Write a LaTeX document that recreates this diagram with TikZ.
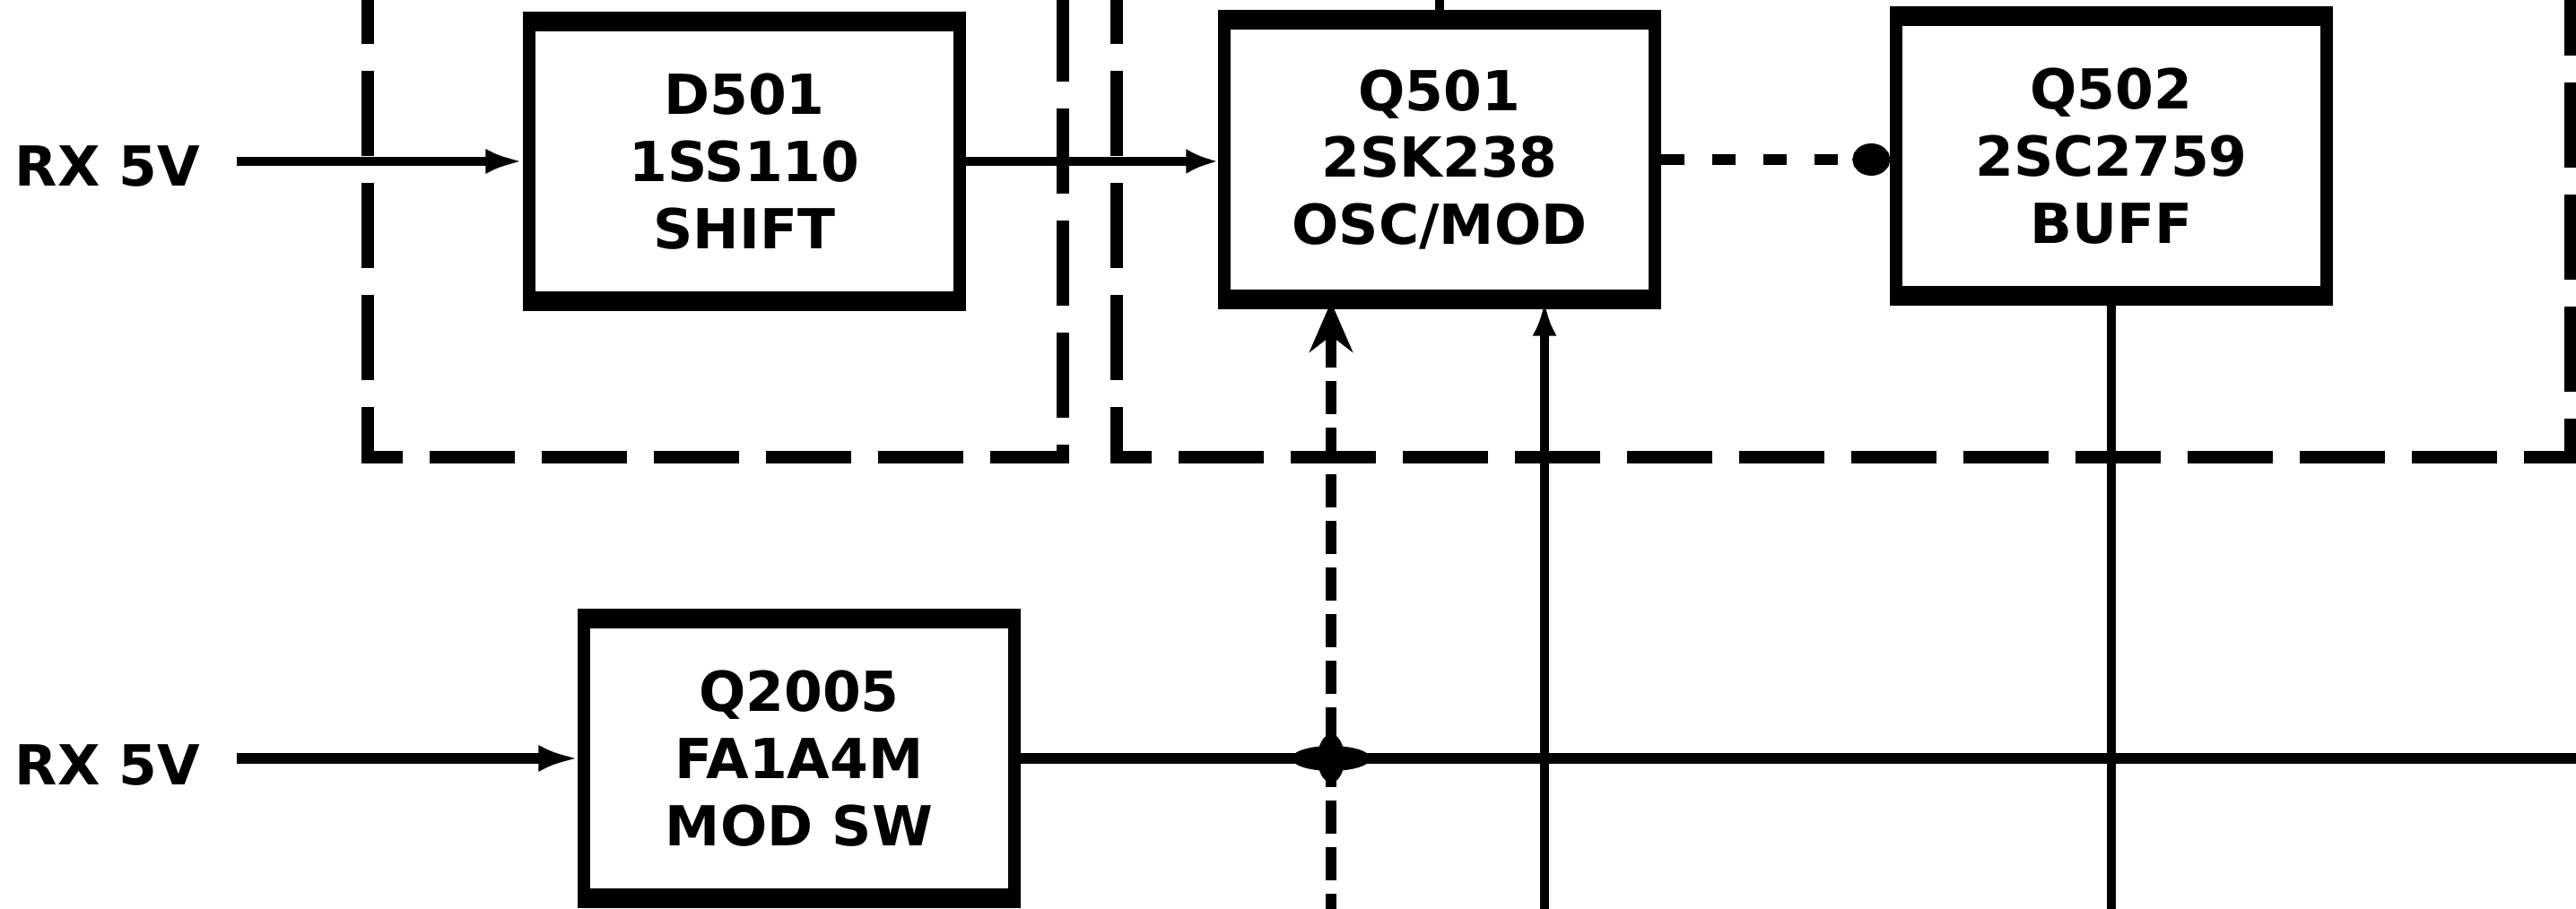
\documentclass[tikz,border=0pt]{standalone}
\usepackage{fontspec}
\setmainfont{DejaVu Sans}
\usetikzlibrary{arrows.meta, positioning}

\tikzset{
  blk/.style={draw, line width=3.8pt, minimum width=4.8cm, minimum height=3.04cm,
    align=center, inner sep=0pt, font=\bfseries\fontsize{17.5}{21.3}\selectfont},
  lbl/.style={inner sep=0pt, font=\bfseries\fontsize{17.5}{21.3}\selectfont},
  sig/.style={line width=2.9pt},
  frame/.style={line width=4pt, dash pattern=on 0.95cm off 0.3cm},
}

\begin{document}
\begin{tikzpicture}
    \useasboundingbox (0,0) rectangle (28.72,10.14);
    \clip (0,0) rectangle (28.72,10.14);

    % Dashed unit outlines (tops run off the sheet)
    \draw[frame] (4.10,10.6) -- (4.10,5.04) -- (11.85,5.04) -- (11.85,10.6);
    \draw[frame] (12.45,10.6) -- (12.45,5.04) -- (28.66,5.04) -- (28.66,10.6);

    % Blocks
    \node[blk] (d501) at (8.30,8.34) {D501\\1SS110\\SHIFT};
    \node[blk] (q501) at (16.05,8.36) {Q501\\2SK238\\OSC/MOD};
    \node[blk] (q502) at (23.54,8.40) {Q502\\2SC2759\\BUFF};
    \node[blk] (q2005) at (8.91,1.68) {Q2005\\FA1A4M\\MOD SW};
    % heavier top and bottom edges
    \foreach \b in {d501,q501,q502,q2005} {
        \draw[line width=4.6pt] (\b.north west) -- (\b.north east);
        \draw[line width=4.6pt] (\b.south west) -- (\b.south east);
    }

    % Supply inputs
    \node[lbl] (rx1) at (1.20,8.28) {RX 5V};
    \node[lbl] (rx2) at (1.20,1.60) {RX 5V};

    % Edge points off the sheet
    \coordinate (ceil) at (0,10.5);
    \coordinate (floor) at (0,-0.2);
    \coordinate (lend) at (29,1.68);
    \coordinate (jct) at (14.84,1.68);
    \coordinate (dbot) at (14.84,-0.2);
    \coordinate (sbot) at (17.22,-0.2);

    % Upper row
    \draw[sig, -{Latex[length=0.42cm, width=0.28cm]}, shorten <=0.4cm]
        (rx1.east |- d501) -- (d501.west);
    \draw[sig, -{Latex[length=0.36cm, width=0.28cm]}] (d501.east) -- (d501.east -| q501.west);
    \draw[line width=3.4pt, dash pattern=on 0.26cm off 0.31cm,
        -{Circle[length=0.42cm, width=0.36cm]}] (q501.east) -- (q501.east -| q502.west);
    \draw[sig] (q501.north) -- (q501.north |- ceil);

    % Lower row
    \draw[line width=3.6pt, -{Latex[length=0.44cm, width=0.30cm]}, shorten <=0.4cm]
        (rx2.east |- q2005) -- (q2005.west);
    \draw[line width=3.6pt] (q2005.east) -- (lend);

    % Verticals
    \draw[line width=3.4pt, dash pattern=on 0.37cm off 0.15cm,
        -{Stealth[length=0.56cm, width=0.48cm]}] (dbot) -- (dbot |- q501.south);
    \draw[sig, -{Latex[length=0.38cm, width=0.27cm]}] (sbot) -- (sbot |- q501.south);
    \draw[sig] (q502.south) -- (q502.south |- floor);

    % Junction
    \fill (jct) ellipse [x radius=0.44cm, y radius=0.14cm];
    \fill (jct) ellipse [x radius=0.15cm, y radius=0.27cm];
\end{tikzpicture}
\end{document}
